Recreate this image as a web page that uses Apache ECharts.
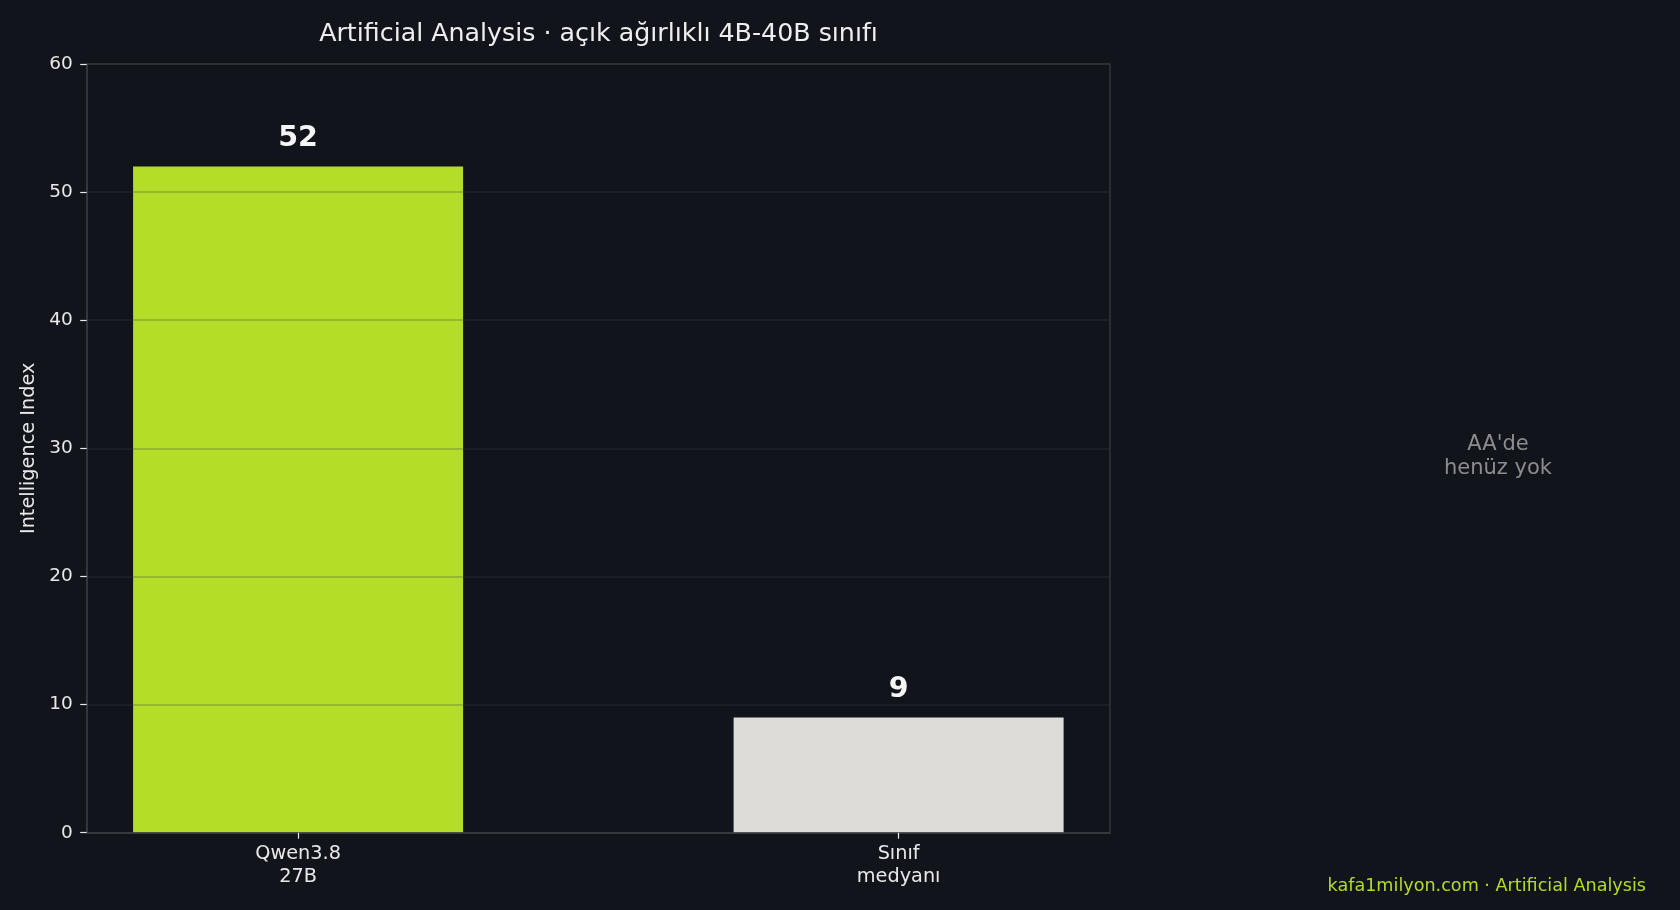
<!DOCTYPE html>
<html>
<head>
<meta charset="utf-8">
<script src="https://cdn.jsdelivr.net/npm/echarts@6/dist/echarts.min.js"></script>
<style>
html,body{margin:0;padding:0;background:#11141b;}
#chart{width:1680px;height:910px;}
</style>
</head>
<body>
<div id="chart"></div>
<script>
const categories = ['Qwen3.8\n27B', 'Sınıf\nmedyanı'];
const values = [52, 9];
const yTicks = [0, 10, 20, 30, 40, 50, 60];
const titleText = 'Artificial Analysis · açık ağırlıklı 4B-40B sınıfı';
const yAxisTitle = 'Intelligence Index';
const sideNote = "AA'de\nhenüz yok";
const footerText = 'kafa1milyon.com · Artificial Analysis';

const barColors = ['#b3dd27', '#dddcd8'];
const FONT = 'DejaVu Sans';

const chart = echarts.init(document.getElementById('chart'));
const positions = categories.map((c, i) => i);

chart.setOption({
  backgroundColor: '#11141b',
  animation: false,
  textStyle: { fontFamily: FONT },
  grid: {
    left: 86.7, right: 570, top: 64, bottom: 77.3,
    show: true, borderColor: '#303338', borderWidth: 1.5, backgroundColor: 'transparent'
  },
  xAxis: {
    type: 'value',
    min: -0.352, max: 1.352,
    z: 3,
    splitLine: { show: false },
    axisLine: { show: true, onZero: false, lineStyle: { color: '#383b40', width: 1.5 } },
    axisTick: { show: true, customValues: positions, length: 6, lineStyle: { color: '#e8e8e8', width: 1.2 } },
    axisLabel: {
      customValues: positions,
      formatter: v => categories[Math.round(v)] || '',
      color: '#e8e8e8', fontSize: 19.3, fontFamily: FONT, lineHeight: 23, margin: 10
    }
  },
  yAxis: {
    type: 'value',
    min: yTicks[0], max: yTicks[yTicks.length - 1], interval: 10,
    z: 3,
    name: yAxisTitle,
    nameLocation: 'middle',
    nameGap: 47,
    nameRotate: 90,
    nameTextStyle: { color: '#e8e8e8', fontSize: 19.3, fontFamily: FONT },
    axisLine: { show: true, onZero: false, lineStyle: { color: '#383b40', width: 1.5 } },
    axisTick: { show: true, length: 6.5, lineStyle: { color: '#e8e8e8', width: 1.2 } },
    axisLabel: { color: '#e8e8e8', fontSize: 18.5, fontFamily: FONT, margin: 14, padding: [2, 0, 0, 0] },
    splitLine: { show: true, lineStyle: { color: 'rgba(66,66,70,0.32)', width: 1.5 } }
  },
  series: [{
    type: 'bar',
    barWidth: 330,
    data: values.map((v, i) => ({ value: [i, v], itemStyle: { color: barColors[i] } })),
    label: {
      show: true, position: 'top', distance: 13,
      formatter: p => String(p.value[1]),
      color: '#f5f5f5', fontSize: 28.5, fontWeight: 'bold', fontFamily: FONT
    }
  }],
  graphic: [
    {
      type: 'text', x: 598.5, y: 34,
      style: { text: titleText, fill: '#eeeeee', font: '25.3px "DejaVu Sans"', textAlign: 'center', textVerticalAlign: 'middle' }
    },
    {
      type: 'text', x: 1498, y: 457,
      style: { text: sideNote, fill: '#8c8c8c', font: '21px "DejaVu Sans"', lineHeight: 24, textAlign: 'center', textVerticalAlign: 'middle' }
    },
    {
      type: 'text', x: 1646, y: 886,
      style: { text: footerText, fill: '#b3dd27', font: '17.6px "DejaVu Sans"', textAlign: 'right', textVerticalAlign: 'middle' }
    }
  ]
});
</script>
</body>
</html>
